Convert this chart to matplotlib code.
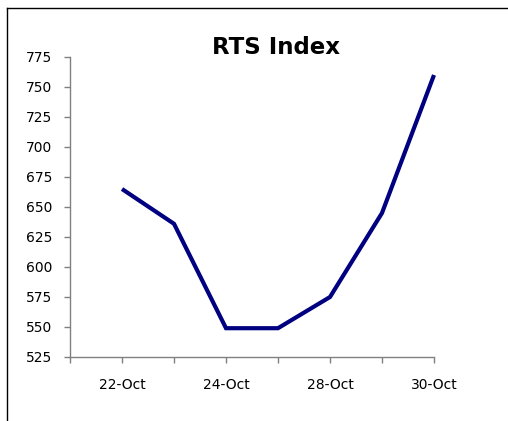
import matplotlib
matplotlib.use("Agg")
import matplotlib.pyplot as plt
from matplotlib.lines import Line2D

dates = ["22-Oct", "23-Oct", "24-Oct", "27-Oct", "28-Oct", "29-Oct", "30-Oct"]
rts = [665, 636, 549, 549, 575, 645, 760]
y_ticks = [525, 550, 575, 600, 625, 650, 675, 700, 725, 750, 775]

plt.rcParams["font.family"] = ["DejaVu Sans"]

fig = plt.figure(figsize=(5.08, 4.21), dpi=100)
ax = fig.add_axes([70 / 508, 64 / 421, 364 / 508, 300 / 421])

x = list(range(1, len(dates) + 1))
ax.plot(x, rts, color="#000080", lw=3, solid_joinstyle="miter",
        solid_capstyle="butt", clip_on=False)

ax.set_xlim(0, len(dates))
ax.set_ylim(525, 775)
ax.set_yticks(y_ticks)
ax.set_xticks(range(0, len(dates) + 1))
ax.set_xticklabels([""] + [d if i % 2 == 0 else "" for i, d in enumerate(dates)])

for s in ["top", "right"]:
    ax.spines[s].set_visible(False)
for s in ["left", "bottom"]:
    ax.spines[s].set_color("#808080")
    ax.spines[s].set_linewidth(1)

ax.tick_params(axis="both", direction="out", length=4, width=1, color="#808080",
               labelsize=10, labelcolor="black")
ax.tick_params(axis="x", pad=11)
ax.tick_params(axis="y", pad=9)

fig.text(276 / 508, 1 - 54 / 421, "RTS Index", fontsize=16.5, fontweight="bold",
         ha="center", va="baseline")

# chart border, only top and left edges visible
fig.add_artist(Line2D([7 / 508, 1], [1 - 8 / 421, 1 - 8 / 421], color="black", lw=1))
fig.add_artist(Line2D([7 / 508, 7 / 508], [0, 1 - 8 / 421], color="black", lw=1))

fig.savefig("out.png", dpi=100)
